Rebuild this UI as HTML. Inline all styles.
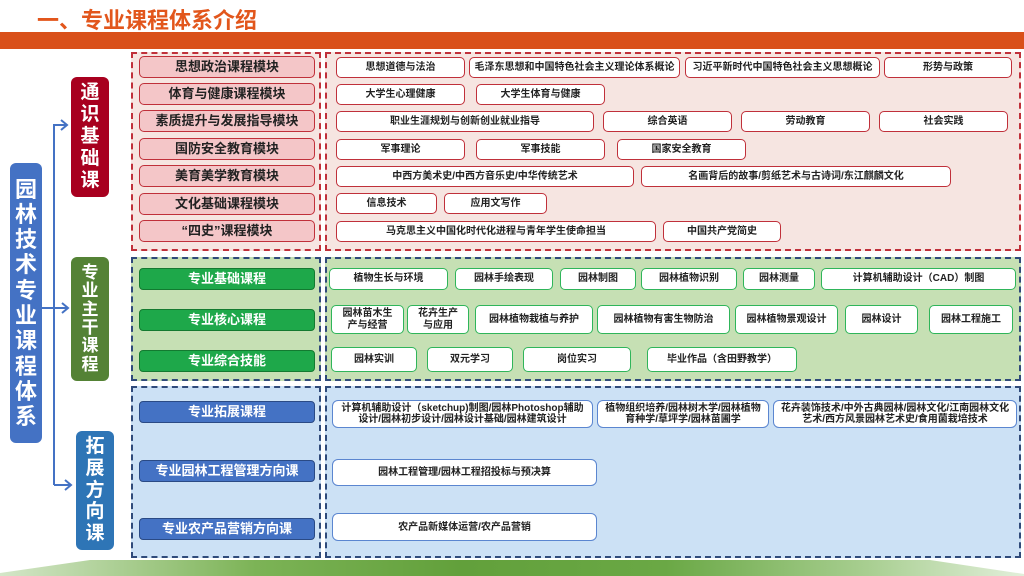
<!DOCTYPE html>
<html><head><meta charset="utf-8">
<style>
*{margin:0;padding:0;box-sizing:border-box}
body{width:1024px;height:576px;position:relative;overflow:hidden;background:#fff;font-family:"Liberation Sans","Noto Sans CJK SC",sans-serif}
.a{position:absolute}
.t{display:flex;align-items:center;justify-content:center;text-align:center;font-weight:bold;line-height:1.1}
.rm{background:#F4C6C8;border:1.5px solid #C0303A;border-radius:5px;font-size:13px;color:#222;height:22px;left:139px;width:176px}
.rc{background:#fff;border:1.5px solid #C0303A;border-radius:5px;font-size:10px;color:#222;height:21px}
.gm{background:#1EA84A;border:1.5px solid #137a30;border-radius:4px;font-size:13px;color:#fff;height:22px;left:139px;width:176px}
.gc{background:#fff;border:1.5px solid #2FB55A;border-radius:5px;font-size:10px;color:#222;line-height:12px}
.bm{background:#4472C4;border:1.5px solid #2a4a85;border-radius:4px;font-size:13px;color:#fff;height:22px;left:139px;width:176px}
.bc{background:#fff;border:1.5px solid #5b86d0;border-radius:6px;font-size:10px;color:#222;line-height:11px}
.v{color:#fff;font-weight:bold;border-radius:6px;display:flex;flex-direction:column;align-items:center;justify-content:center;line-height:1.15}
</style></head><body>
<div class="a" style="left:37px;top:3px;font-size:22px;font-weight:bold;color:#E2561C">一、专业课程体系介绍</div>
<div class="a" style="left:0;top:32px;width:1024px;height:17px;background:#D9501A"></div>

<div class="a" style="left:131px;top:52px;width:190px;height:199px;background:#F6E5E1;border:2px dashed #C0303A"></div>
<div class="a" style="left:325px;top:52px;width:696px;height:199px;background:#F6E5E1;border:2px dashed #C0303A"></div>
<div class="a" style="left:131px;top:257px;width:190px;height:124px;background:#C6E0B4;border:2px dashed #2F4A7A"></div>
<div class="a" style="left:325px;top:257px;width:696px;height:124px;background:#C6E0B4;border:2px dashed #2F4A7A"></div>
<div class="a" style="left:131px;top:386px;width:190px;height:172px;background:#CCE1F5;border:2px dashed #2F4A7A"></div>
<div class="a" style="left:325px;top:386px;width:696px;height:172px;background:#CCE1F5;border:2px dashed #2F4A7A"></div>

<div class="a v" style="left:10px;top:163px;width:32px;height:280px;background:#4472C4;font-size:22px">园<br>林<br>技<br>术<br>专<br>业<br>课<br>程<br>体<br>系</div>
<div class="a v" style="left:71px;top:77px;width:38px;height:120px;background:#A8001F;font-size:19px">通<br>识<br>基<br>础<br>课</div>
<div class="a v" style="left:71px;top:257px;width:38px;height:124px;background:#548235;font-size:17px;line-height:1.08">专<br>业<br>主<br>干<br>课<br>程</div>
<div class="a v" style="left:76px;top:431px;width:38px;height:119px;background:#2E75B6;font-size:19px">拓<br>展<br>方<br>向<br>课</div>

<svg class="a" style="left:0;top:0" width="140" height="576">
<g stroke="#4472C4" stroke-width="2" fill="none">
<path d="M54 485 V125 H66"/><path d="M42 308 H68"/><path d="M54 485 H70"/>
<path d="M61 120 L67 125 L61 130"/><path d="M62 303 L68 308 L62 313"/><path d="M65 480 L71 485 L65 490"/>
</g></svg>

<div class="a t rm" style="top:56px">思想政治课程模块</div>
<div class="a t rm" style="top:83px">体育与健康课程模块</div>
<div class="a t rm" style="top:110px">素质提升与发展指导模块</div>
<div class="a t rm" style="top:138px">国防安全教育模块</div>
<div class="a t rm" style="top:165px">美育美学教育模块</div>
<div class="a t rm" style="top:193px">文化基础课程模块</div>
<div class="a t rm" style="top:220px">“四史”课程模块</div>

<div class="a t rc" style="top:57px;left:336px;width:129px">思想道德与法治</div>
<div class="a t rc" style="top:57px;left:469px;width:211px">毛泽东思想和中国特色社会主义理论体系概论</div>
<div class="a t rc" style="top:57px;left:685px;width:195px">习近平新时代中国特色社会主义思想概论</div>
<div class="a t rc" style="top:57px;left:884px;width:128px">形势与政策</div>
<div class="a t rc" style="top:84px;left:336px;width:129px">大学生心理健康</div>
<div class="a t rc" style="top:84px;left:476px;width:129px">大学生体育与健康</div>
<div class="a t rc" style="top:111px;left:336px;width:258px">职业生涯规划与创新创业就业指导</div>
<div class="a t rc" style="top:111px;left:603px;width:129px">综合英语</div>
<div class="a t rc" style="top:111px;left:741px;width:129px">劳动教育</div>
<div class="a t rc" style="top:111px;left:879px;width:129px">社会实践</div>
<div class="a t rc" style="top:139px;left:336px;width:129px">军事理论</div>
<div class="a t rc" style="top:139px;left:476px;width:129px">军事技能</div>
<div class="a t rc" style="top:139px;left:617px;width:129px">国家安全教育</div>
<div class="a t rc" style="top:166px;left:336px;width:298px">中西方美术史/中西方音乐史/中华传统艺术</div>
<div class="a t rc" style="top:166px;left:641px;width:310px">名画背后的故事/剪纸艺术与古诗词/东江麒麟文化</div>
<div class="a t rc" style="top:193px;left:336px;width:101px">信息技术</div>
<div class="a t rc" style="top:193px;left:444px;width:103px">应用文写作</div>
<div class="a t rc" style="top:221px;left:336px;width:320px">马克思主义中国化时代化进程与青年学生使命担当</div>
<div class="a t rc" style="top:221px;left:663px;width:118px">中国共产党简史</div>

<div class="a t gm" style="top:268px">专业基础课程</div>
<div class="a t gm" style="top:309px">专业核心课程</div>
<div class="a t gm" style="top:350px">专业综合技能</div>

<div class="a t gc" style="top:268px;height:22px;left:329px;width:119px">植物生长与环境</div>
<div class="a t gc" style="top:268px;height:22px;left:455px;width:98px">园林手绘表现</div>
<div class="a t gc" style="top:268px;height:22px;left:560px;width:76px">园林制图</div>
<div class="a t gc" style="top:268px;height:22px;left:641px;width:96px">园林植物识别</div>
<div class="a t gc" style="top:268px;height:22px;left:743px;width:72px">园林测量</div>
<div class="a t gc" style="top:268px;height:22px;left:821px;width:195px">计算机辅助设计（CAD）制图</div>
<div class="a t gc" style="top:305px;height:29px;left:331px;width:73px">园林苗木生<br>产与经营</div>
<div class="a t gc" style="top:305px;height:29px;left:407px;width:62px">花卉生产<br>与应用</div>
<div class="a t gc" style="top:305px;height:29px;left:475px;width:118px">园林植物栽植与养护</div>
<div class="a t gc" style="top:305px;height:29px;left:597px;width:133px">园林植物有害生物防治</div>
<div class="a t gc" style="top:305px;height:29px;left:735px;width:103px">园林植物景观设计</div>
<div class="a t gc" style="top:305px;height:29px;left:845px;width:73px">园林设计</div>
<div class="a t gc" style="top:305px;height:29px;left:929px;width:84px">园林工程施工</div>
<div class="a t gc" style="top:347px;height:25px;left:331px;width:86px">园林实训</div>
<div class="a t gc" style="top:347px;height:25px;left:427px;width:86px">双元学习</div>
<div class="a t gc" style="top:347px;height:25px;left:523px;width:108px">岗位实习</div>
<div class="a t gc" style="top:347px;height:25px;left:647px;width:150px">毕业作品（含田野教学）</div>

<div class="a t bm" style="top:401px">专业拓展课程</div>
<div class="a t bm" style="top:460px">专业园林工程管理方向课</div>
<div class="a t bm" style="top:518px">专业农产品营销方向课</div>

<div class="a t bc" style="top:400px;height:28px;left:332px;width:261px">计算机辅助设计（sketchup)制图/园林Photoshop辅助<br>设计/园林初步设计/园林设计基础/园林建筑设计</div>
<div class="a t bc" style="top:400px;height:28px;left:597px;width:172px">植物组织培养/园林树木学/园林植物<br>育种学/草坪学/园林苗圃学</div>
<div class="a t bc" style="top:400px;height:28px;left:773px;width:244px">花卉装饰技术/中外古典园林/园林文化/江南园林文化<br>艺术/西方风景园林艺术史/食用菌栽培技术</div>
<div class="a t bc" style="top:459px;height:27px;left:332px;width:265px">园林工程管理/园林工程招投标与预决算</div>
<div class="a t bc" style="top:513px;height:28px;left:332px;width:265px">农产品新媒体运营/农产品营销</div>

<svg class="a" style="left:0;top:556px" width="1024" height="20">
<defs><linearGradient id="g" x1="0" x2="1" y1="0" y2="0">
<stop offset="0" stop-color="#d4e6c8"/><stop offset="0.25" stop-color="#7cb356"/><stop offset="0.45" stop-color="#62a03b"/><stop offset="0.65" stop-color="#6aa845"/><stop offset="0.85" stop-color="#a9cf92"/><stop offset="1" stop-color="#e2efda"/></linearGradient></defs>
<polygon points="0,17 90,4 930,4 1024,18 1024,20 0,20" fill="url(#g)"/>
</svg>
</body></html>
